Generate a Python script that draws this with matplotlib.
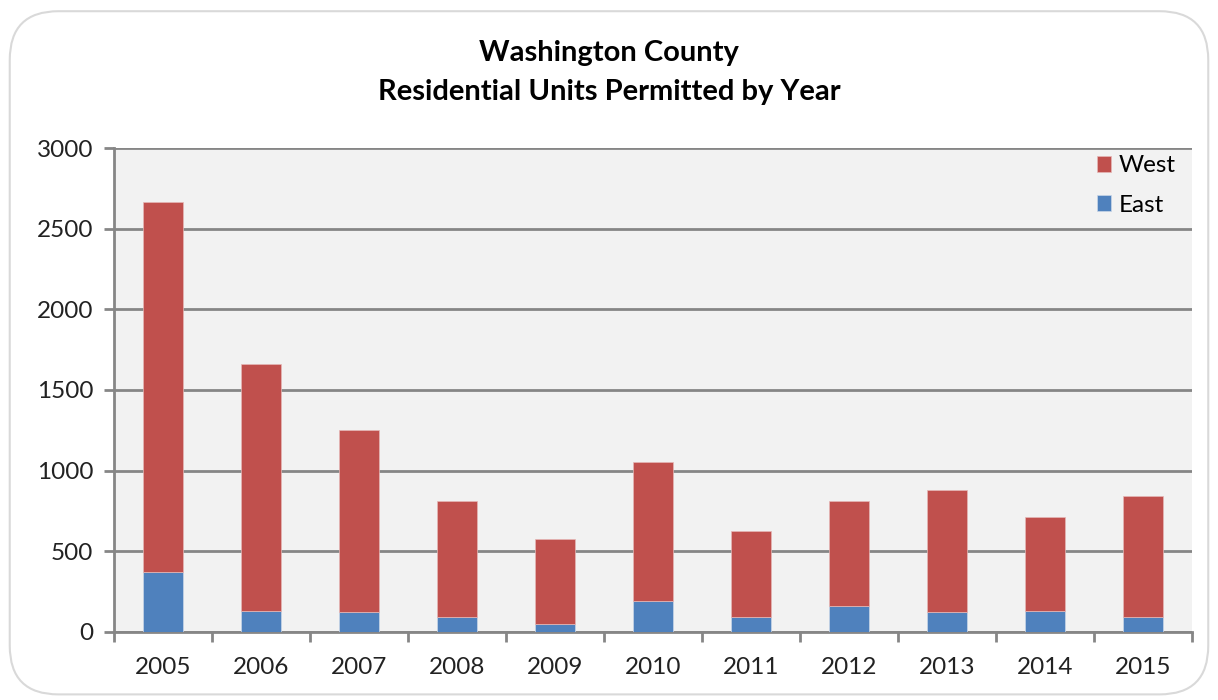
import numpy as np
import matplotlib; matplotlib.use("Agg"); import matplotlib.pyplot as plt
from matplotlib.patches import FancyBboxPatch
plt.rcParams.update({"font.family":["Lato","DejaVu Sans"],"font.size":17})

years=["2005","2006","2007","2008","2009","2010","2011","2012","2013","2014","2015"]
east=[370,131,124,90,52,195,90,162,124,131,90]
total=[2665,1664,1252,815,577,1054,624,815,879,711,846]
west=[t-e for t,e in zip(total,east)]
C_WEST="#C0504D"; C_EAST="#4F81BD"; GRID="#868686"

fig=plt.figure(figsize=(12.18,7),dpi=100)
fig.patches.append(FancyBboxPatch((0.008,0.008),0.984,0.976,boxstyle="round,pad=0,rounding_size=0.04",
    transform=fig.transFigure,fc="white",ec="#d9d9d9",lw=1.5,zorder=-1,mutation_aspect=1218/700))
ax=fig.add_axes([114/1218,1-632/700,(1192-114)/1218,(632-148)/700])
x=np.arange(len(years))
ax.bar(x,east,0.4,color=C_EAST,label="East",zorder=3,edgecolor="#c9d6e8",linewidth=0.5)
ax.bar(x,west,0.4,bottom=east,color=C_WEST,label="West",zorder=3,edgecolor="#e6b8b7",linewidth=0.5)
ax.set_facecolor("#f2f2f2")
ax.set_xlim(-0.5,len(years)-0.5); ax.set_ylim(0,3000)
ax.set_yticks(range(0,3001,500))
ax.yaxis.grid(True,color=GRID,lw=2,zorder=1)
ax.set_xticks(x); ax.set_xticklabels(years)
ax.set_xticks(np.arange(-0.5,len(years)),minor=True)
ax.tick_params(axis="x",which="major",length=0,pad=18,labelsize=17.5,labelcolor="#222222")
ax.tick_params(axis="x",which="minor",length=7,width=2,color=GRID,direction="out")
ax.tick_params(axis="y",length=7,width=2,color=GRID,pad=8,labelsize=17.5,labelcolor="#222222")
for s in ("top","right"): ax.spines[s].set_visible(False)
for s in ("left","bottom"): ax.spines[s].set_color(GRID); ax.spines[s].set_linewidth(2)
h,l=ax.get_legend_handles_labels()
ax.legend(h[::-1],l[::-1],loc="upper right",frameon=False,fontsize=17.5,handlelength=0.6,handleheight=0.6,
    handletextpad=0.3,labelspacing=0.75,bbox_to_anchor=(1.005,1.03))
fig.text(0.5,1-53/700,"Washington County",ha="center",va="center",fontsize=21,fontweight="bold")
fig.text(0.5,1-92/700,"Residential Units Permitted by Year",ha="center",va="center",fontsize=21,fontweight="bold")
fig.savefig("out.png",dpi=100)
